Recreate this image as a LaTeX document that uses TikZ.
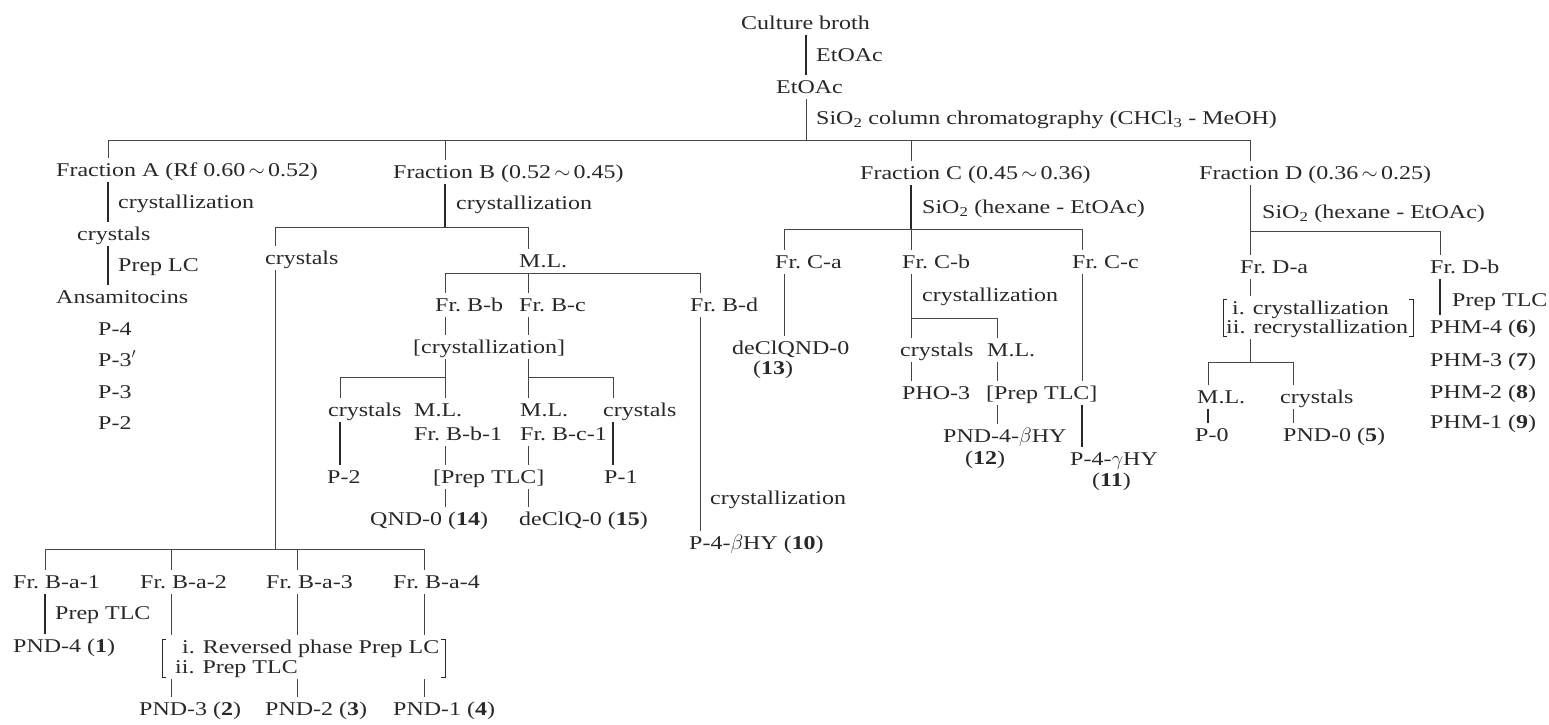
\documentclass[tikz,border=0pt]{standalone}
\usepackage{fontspec}
\setmainfont{Liberation Serif}[FakeStretch=1.23]
\definecolor{ink}{RGB}{40,40,40}
\definecolor{rule}{RGB}{70,70,70}
\tikzset{
  txt/.style={inner sep=0pt, text height=18pt, text depth=6pt, anchor=base west,
              font=\fontsize{19.5}{22}\selectfont, text=ink},
  ln/.style={draw=rule, line width=0.7pt},
  lk/.style={draw=ink, line width=1.6pt},
  brk/.style={draw=ink, line width=0.8pt},
}
\begin{document}
\begin{tikzpicture}[x=1pt,y=-1pt]
\useasboundingbox (0,0) rectangle (1549,724);
% ---------- top ----------
\node[txt] (cb) at (741,29) {Culture broth};
\node[txt] (l1) at (816,61) {EtOAc};
\node[txt] (et) at (776,93) {EtOAc};
\node[txt] (l2) at (816,124) {SiO\textsubscript{2} column chromatography (CHCl\textsubscript{3} - MeOH)};
% ---------- Fraction A ----------
\node[txt] (fA) at (56,176) {Fraction A (Rf 0.60\,$\sim$\,0.52)};
\node[txt] (lA1) at (118,208) {crystallization};
\node[txt] (cA) at (77,240) {crystals};
\node[txt] (lA2) at (118,271) {Prep LC};
\node[txt] (an) at (56,303) {Ansamitocins};
\node[txt] (p4) at (98,335) {P-4};
\node[txt] (p3p) at (98,366) {P-3$'$};
\node[txt] (p3) at (98,398) {P-3};
\node[txt] (p2a) at (98,429) {P-2};
% ---------- Fraction B ----------
\node[txt] (fB) at (393,178) {Fraction B (0.52\,$\sim$\,0.45)};
\node[txt] (lB1) at (456,209) {crystallization};
\node[txt] (cB) at (265,264) {crystals};
\node[txt] (ba1) at (13,588) {Fr.\ B-a-1};
\node[txt] (ba2) at (140,588) {Fr.\ B-a-2};
\node[txt] (ba3) at (266,588) {Fr.\ B-a-3};
\node[txt] (ba4) at (393,588) {Fr.\ B-a-4};
\node[txt] (lBa1) at (55,619) {Prep TLC};
\node[txt] (pnd4) at (13,652) {PND-4 (\textbf{1})};
\node[txt] (rp1) at (182,653) {i. Reversed phase Prep LC};
\node[txt] (rp2) at (175,673) {ii. Prep TLC};
\node[txt] (pnd3) at (139,715) {PND-3 (\textbf{2})};
\node[txt] (pnd2) at (265,715) {PND-2 (\textbf{3})};
\node[txt] (pnd1) at (393,715) {PND-1 (\textbf{4})};
\node[txt] (mlB) at (519,267) {M.L.};
\node[txt] (bb) at (435,311) {Fr.\ B-b};
\node[txt] (bc) at (519,311) {Fr.\ B-c};
\node[txt] (bd) at (690,311) {Fr.\ B-d};
\node[txt] (cr) at (413,353) {[crystallization]};
\node[txt] (cB2) at (328,416) {crystals};
\node[txt] (mlbb) at (414,416) {M.L.};
\node[txt] (frbb1) at (414,440) {Fr.\ B-b-1};
\node[txt] (mlbc) at (520,416) {M.L.};
\node[txt] (frbc1) at (520,440) {Fr.\ B-c-1};
\node[txt] (cB3) at (603,416) {crystals};
\node[txt] (p2b) at (327,483) {P-2};
\node[txt] (pt) at (433,483) {[Prep TLC]};
\node[txt] (p1) at (604,483) {P-1};
\node[txt] (qnd) at (370,525) {QND-0 (\textbf{14})};
\node[txt] (dcq) at (519,525) {deClQ-0 (\textbf{15})};
\node[txt] (lBd) at (710,504) {crystallization};
\node[txt] (p4b) at (689,549) {P-4-$\beta$HY (\textbf{10})};
% ---------- Fraction C ----------
\node[txt] (fC) at (860,179) {Fraction C (0.45\,$\sim$\,0.36)};
\node[txt] (lC) at (922,213) {SiO\textsubscript{2} (hexane - EtOAc)};
\node[txt] (ca) at (775,268) {Fr.\ C-a};
\node[txt] (cbn) at (902,268) {Fr.\ C-b};
\node[txt] (cc) at (1072,268) {Fr.\ C-c};
\node[txt] (dcqnd) at (732,354) {deClQND-0};
\node[txt] (n13) at (753,374) {(\textbf{13})};
\node[txt] (lCb) at (922,301) {crystallization};
\node[txt] (cC) at (900,356) {crystals};
\node[txt] (mlC) at (987,356) {M.L.};
\node[txt] (pho) at (902,399) {PHO-3};
\node[txt] (ptC) at (986,399) {[Prep TLC]};
\node[txt] (pnd4b) at (943,442) {PND-4-$\beta$HY};
\node[txt] (n12) at (965,464) {(\textbf{12})};
\node[txt] (p4g) at (1070,465) {P-4-$\gamma$HY};
\node[txt] (n11) at (1092,486) {(\textbf{11})};
% ---------- Fraction D ----------
\node[txt] (fD) at (1199,179) {Fraction D (0.36\,$\sim$\,0.25)};
\node[txt] (lD) at (1262,218) {SiO\textsubscript{2} (hexane - EtOAc)};
\node[txt] (da) at (1240,273) {Fr.\ D-a};
\node[txt] (db) at (1430,273) {Fr.\ D-b};
\node[txt] (dr1) at (1232,314) {i. crystallization};
\node[txt] (dr2) at (1226,333) {ii. recrystallization};
\node[txt] (mlD) at (1197,403) {M.L.};
\node[txt] (cD) at (1280,403) {crystals};
\node[txt] (p0) at (1195,441) {P-0};
\node[txt] (pnd0) at (1283,441) {PND-0 (\textbf{5})};
\node[txt] (lDb) at (1452,306) {Prep TLC};
\node[txt] (phm4) at (1430,333) {PHM-4 (\textbf{6})};
\node[txt] (phm3) at (1430,366) {PHM-3 (\textbf{7})};
\node[txt] (phm2) at (1430,398) {PHM-2 (\textbf{8})};
\node[txt] (phm1) at (1430,428) {PHM-1 (\textbf{9})};
% ---------- junctions ----------
\coordinate (c0) at (806,140);
\coordinate (tA) at (108,140);
\coordinate (tB) at (445,140);
\coordinate (tC) at (911,140);
\coordinate (tD) at (1250,140);
\coordinate (jB) at (445,227);
\coordinate (jBa) at (275,227);
\coordinate (jBb) at (528,227);
\coordinate (bBa) at (275,549);
\coordinate (xa1) at (45,549);
\coordinate (xa2) at (171,549);
\coordinate (xa3) at (297,549);
\coordinate (xa4) at (424,549);
\coordinate (yb1) at (445,273);
\coordinate (yb2) at (528,273);
\coordinate (yb3) at (700,273);
\coordinate (k0) at (340,377);
\coordinate (k1) at (445,377);
\coordinate (k2) at (528,377);
\coordinate (k3) at (613,377);
\coordinate (jC) at (911,229);
\coordinate (jCa) at (784,229);
\coordinate (jCc) at (1082,229);
\coordinate (kb) at (911,318);
\coordinate (kb2) at (997,318);
\coordinate (jD) at (1250,231);
\coordinate (jDb) at (1440,231);
\coordinate (kD) at (1250,362);
\coordinate (kD1) at (1208,362);
\coordinate (kD2) at (1293,362);
% ---------- top connectors ----------
\draw[lk] (cb.south -| c0) -- (et.north -| c0);
\draw[ln] (et.south -| c0) -- (c0);
\draw[ln] (tA) -- (tD);
\draw[ln] (tA) -- (tA |- fA.north);
\draw[ln] (tB) -- (tB |- fB.north);
\draw[ln] (tC) -- (tC |- fC.north);
\draw[ln] (tD) -- (tD |- fD.north);
% ---------- A ----------
\draw[lk] (fA.south -| tA) -- (cA.north -| tA);
\draw[lk] (cA.south -| tA) -- (an.north -| tA);
% ---------- B ----------
\draw[lk] (fB.south -| tB) -- (jB);
\draw[ln] (jBa) -- (jBb);
\draw[ln] (jBa) -- (jBa |- cB.north);
\draw[ln] (cB.south -| bBa) -- (bBa);
\draw[ln] (xa1) -- (xa4);
\draw[ln] (xa1) -- (xa1 |- ba1.north);
\draw[ln] (xa2) -- (xa2 |- ba2.north);
\draw[ln] (xa3) -- (xa3 |- ba3.north);
\draw[ln] (xa4) -- (xa4 |- ba4.north);
\draw[lk] (ba1.south -| xa1) -- (pnd4.north -| xa1);
\draw[ln] (ba2.south -| xa2) -- (rp1.north -| xa2);
\draw[ln] (ba3.south -| xa3) -- (rp1.north -| xa3);
\draw[ln] (ba4.south -| xa4) -- (rp1.north -| xa4);
\draw[brk] (166,639) -- (162,639) -- (162,677) -- (166,677);
\draw[brk] (441,639) -- (445,639) -- (445,677) -- (441,677);
\draw[ln] (rp2.south -| xa2) -- (pnd3.north -| xa2);
\draw[ln] (rp2.south -| xa3) -- (pnd2.north -| xa3);
\draw[ln] (rp2.south -| xa4) -- (pnd1.north -| xa4);
\draw[ln] (jBb) -- (jBb |- mlB.north);
\draw[ln] (yb1) -- (yb3);
\draw[ln] (yb1) -- (yb1 |- bb.north);
\draw[ln] (yb2) -- (yb2 |- bc.north);
\draw[ln] (yb3) -- (yb3 |- bd.north);
\draw[ln] (bb.south -| yb1) -- (cr.north -| yb1);
\draw[ln] (bc.south -| yb2) -- (cr.north -| yb2);
\draw[ln] (cr.south -| k1) -- (k1 |- mlbb.north);
\draw[ln] (k1) -- (k0) -- (k0 |- cB2.north);
\draw[ln] (cr.south -| k2) -- (k2 |- mlbc.north);
\draw[ln] (k2) -- (k3) -- (k3 |- cB3.north);
\draw[lk] (cB2.south -| k0) -- (p2b.north -| k0);
\draw[ln] (frbb1.south -| k1) -- (pt.north -| k1);
\draw[ln] (frbc1.south -| k2) -- (pt.north -| k2);
\draw[lk] (cB3.south -| k3) -- (p1.north -| k3);
\draw[ln] (pt.south -| k1) -- (qnd.north -| k1);
\draw[ln] (pt.south -| k2) -- (dcq.north -| k2);
\draw[ln] (bd.south -| yb3) -- (p4b.north -| yb3);
% ---------- C ----------
\draw[lk] (fC.south -| tC) -- (jC);
\draw[ln] (jCa) -- (jCc);
\draw[ln] (jCa) -- (jCa |- ca.north);
\draw[ln] (jC) -- (jC |- cbn.north);
\draw[ln] (jCc) -- (jCc |- cc.north);
\draw[ln] (ca.south -| jCa) -- (dcqnd.north -| jCa);
\draw[ln] (cbn.south -| jC) -- (cC.north -| jC);
\draw[ln] (kb) -- (kb2) -- (kb2 |- mlC.north);
\draw[ln] (cC.south -| jC) -- (pho.north -| jC);
\draw[ln] (mlC.south -| kb2) -- (ptC.north -| kb2);
\draw[ln] (ptC.south -| kb2) -- (pnd4b.north -| kb2);
\draw[ln] (cc.south -| jCc) -- (ptC.north -| jCc);
\draw[lk] (ptC.south -| jCc) -- (p4g.north -| jCc);
% ---------- D ----------
\draw[ln] (fD.south -| tD) -- (da.north -| tD);
\draw[ln] (jD) -- (jDb) -- (jDb |- db.north);
\draw[ln] (da.south -| tD) -- (dr1.north -| tD);
\draw[brk] (1227,299) -- (1223,299) -- (1223,336) -- (1227,336);
\draw[brk] (1409,299) -- (1413,299) -- (1413,336) -- (1409,336);
\draw[ln] (dr2.south -| kD) -- (kD);
\draw[ln] (kD1) -- (kD2);
\draw[ln] (kD1) -- (kD1 |- mlD.north);
\draw[ln] (kD2) -- (kD2 |- cD.north);
\draw[lk] (mlD.south -| kD1) -- (p0.north -| kD1);
\draw[ln] (cD.south -| kD2) -- (pnd0.north -| kD2);
\draw[lk] (db.south -| jDb) -- (phm4.north -| jDb);
\end{tikzpicture}
\end{document}
